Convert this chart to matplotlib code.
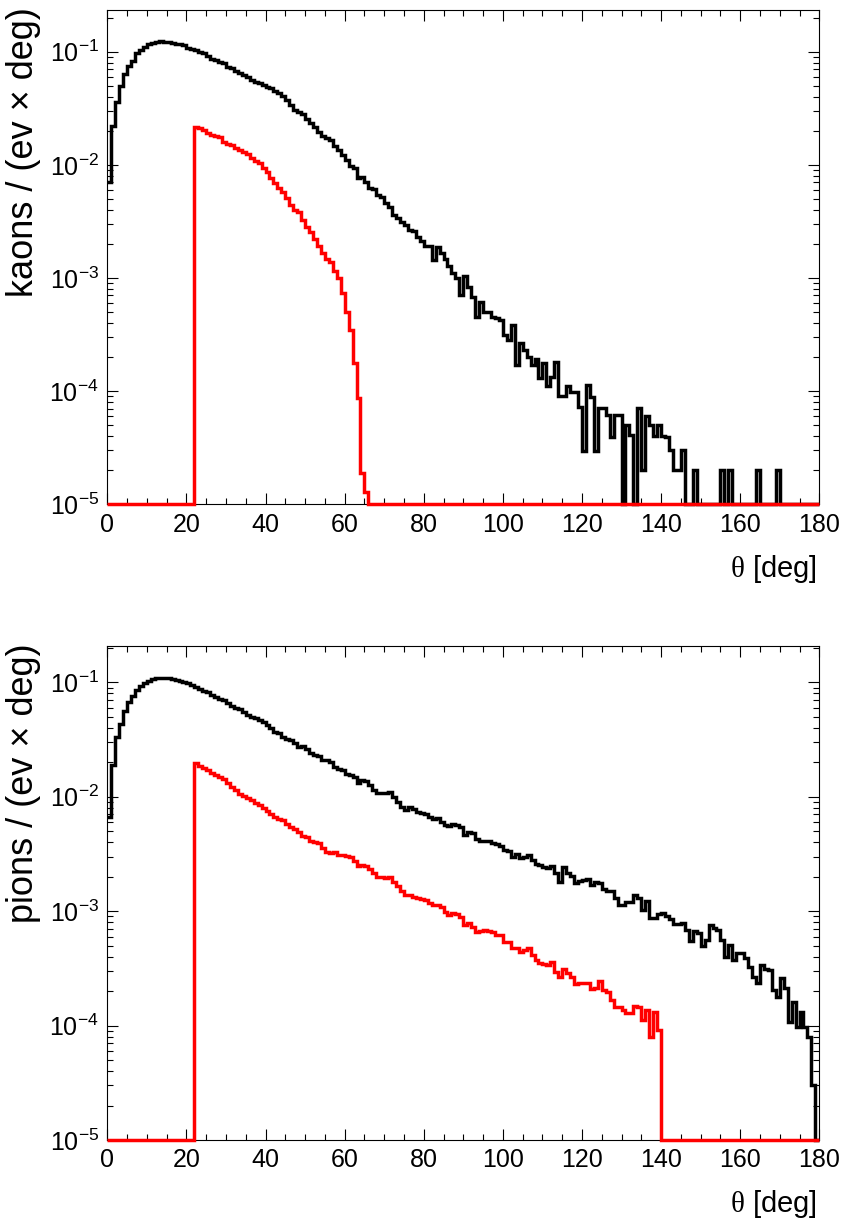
import numpy as np
import matplotlib
matplotlib.use("Agg")
import matplotlib.pyplot as plt
from matplotlib.ticker import MultipleLocator, LogLocator, NullFormatter

plt.rcParams["font.family"] = ["Liberation Sans", "DejaVu Sans"]
plt.rcParams["mathtext.fontset"] = "custom"
plt.rcParams["mathtext.rm"] = "Liberation Serif"

# 1-degree bins in theta
theta_edges = np.arange(0, 181, 1)

# log10 of bin contents, None = empty bin
kaon_all_log = [
    -2.149, -1.657, -1.448, -1.303, -1.197, -1.127, -1.082, -1.015, -0.985, -0.956,
    -0.935, -0.920, -0.912, -0.909, -0.912, -0.918, -0.920, -0.929, -0.935, -0.944,
    -0.965, -0.973, -0.985, -1.000, -1.009, -1.035, -1.062, -1.071, -1.088, -1.103,
    -1.133, -1.147, -1.168, -1.186, -1.206, -1.227, -1.250, -1.265, -1.280, -1.297,
    -1.309, -1.324, -1.345, -1.368, -1.392, -1.427, -1.471, -1.515, -1.530, -1.554,
    -1.598, -1.633, -1.663, -1.707, -1.745, -1.760, -1.781, -1.831, -1.868, -1.913,
    -1.957, -2.010, -2.030, -2.119, -2.104, -2.148, -2.207, -2.216, -2.266, -2.281,
    -2.334, -2.375, -2.443, -2.472, -2.502, -2.531, -2.575, -2.584, -2.640, -2.670,
    -2.720, -2.720, -2.840, -2.730, -2.780, -2.834, -2.893, -2.952, -3.002, -3.149,
    -2.987, -3.076, -3.164, -3.341, -3.208, -3.297, -3.297, -3.341, -3.355, -3.370,
    -3.503, -3.547, -3.414, -3.768, -3.576, -3.635, -3.700, -3.768, -3.718, -3.885,
    -3.753, -3.953, -3.877, -3.739, -4.039, -4.039, -3.959, -4.004, -4.004, -4.136,
    -4.533, -3.950, -4.050, -4.533, -4.150, -4.150, -4.209, -4.401, -4.209, -4.209,
    None, -4.298, -4.386, None, -4.150, -4.695, -4.224, -4.298, -4.400, -4.298,
    -4.400, -4.401, -4.519, -4.695, -4.695, -4.519, None, None, -4.695, None,
    None, None, None, None, None, -4.695, None, -4.695, None, None,
    None, None, None, None, -4.695, None, None, None, None, -4.695,
    None, None, None, None, None, None, None, None, None, None,
]

kaon_cut_log = [None] * 22 + [
    -1.663, -1.677, -1.692, -1.722, -1.736, -1.745, -1.757, -1.795,
    -1.816, -1.825, -1.854, -1.869, -1.884, -1.904, -1.943, -1.963, -1.987, -2.025,
    -2.060, -2.119, -2.158, -2.208, -2.243, -2.296, -2.355, -2.399, -2.414, -2.487,
    -2.546, -2.591, -2.658, -2.720, -2.780, -2.830, -2.860, -2.935, -3.002, -3.134,
    -3.297, -3.459, -3.753, -4.062, -4.719, -4.887,
] + [None] * 114

pion_all_log = [
    -2.180, -1.722, -1.481, -1.361, -1.251, -1.172, -1.119, -1.070, -1.032, -1.003,
    -0.985, -0.974, -0.965, -0.962, -0.959, -0.965, -0.971, -0.980, -0.985, -1.000,
    -1.009, -1.023, -1.038, -1.061, -1.076, -1.084, -1.111, -1.125, -1.146, -1.154,
    -1.178, -1.207, -1.221, -1.236, -1.256, -1.285, -1.300, -1.315, -1.329, -1.344,
    -1.373, -1.402, -1.431, -1.446, -1.475, -1.498, -1.504, -1.533, -1.562, -1.556,
    -1.585, -1.615, -1.635, -1.644, -1.679, -1.679, -1.693, -1.737, -1.760, -1.763,
    -1.801, -1.810, -1.824, -1.883, -1.853, -1.859, -1.897, -1.941, -1.970, -1.970,
    -1.964, -1.955, -1.999, -2.043, -2.087, -2.116, -2.092, -2.110, -2.130, -2.139,
    -2.151, -2.174, -2.197, -2.188, -2.218, -2.247, -2.255, -2.241, -2.247, -2.267,
    -2.334, -2.305, -2.320, -2.372, -2.384, -2.384, -2.387, -2.401, -2.416, -2.430,
    -2.465, -2.474, -2.523, -2.500, -2.538, -2.529, -2.512, -2.553, -2.588, -2.599,
    -2.617, -2.620, -2.605, -2.669, -2.742, -2.617, -2.664, -2.692, -2.756, -2.733,
    -2.728, -2.722, -2.771, -2.742, -2.756, -2.809, -2.821, -2.821, -2.888, -2.946,
    -2.946, -2.917, -2.917, -2.858, -2.882, -2.990, -2.908, -3.062, -3.062, -3.024,
    -3.013, -3.042, -3.071, -3.112, -3.112, -3.100, -3.164, -3.258, -3.170, -3.188,
    -3.304, -3.252, -3.121, -3.150, -3.164, -3.252, -3.397, -3.295, -3.426, -3.368,
    -3.368, -3.412, -3.485, -3.572, -3.630, -3.470, -3.508, -3.514, -3.689, -3.747,
    -3.587, -3.674, -3.965, -3.791, -4.009, -3.878, -4.009, -4.096, -4.519, None,
]

pion_cut_log = [None] * 22 + [
    -1.708, -1.728, -1.746, -1.766, -1.789, -1.810, -1.824, -1.845,
    -1.883, -1.912, -1.941, -1.976, -1.990, -2.008, -2.028, -2.052, -2.072, -2.101,
    -2.124, -2.151, -2.174, -2.197, -2.203, -2.238, -2.267, -2.279, -2.305, -2.343,
    -2.355, -2.387, -2.392, -2.407, -2.451, -2.480, -2.488, -2.480, -2.509, -2.510,
    -2.520, -2.523, -2.558, -2.605, -2.599, -2.605, -2.634, -2.663, -2.698, -2.704,
    -2.713, -2.704, -2.742, -2.780, -2.821, -2.858, -2.858, -2.873, -2.882, -2.890,
    -2.902, -2.925, -2.946, -2.948, -2.966, -3.004, -3.033, -3.013, -3.024, -3.048,
    -3.121, -3.100, -3.135, -3.179, -3.170, -3.164, -3.170, -3.179, -3.208, -3.208,
    -3.266, -3.266, -3.324, -3.324, -3.354, -3.339, -3.324, -3.383, -3.426, -3.456,
    -3.461, -3.470, -3.441, -3.528, -3.572, -3.508, -3.543, -3.572, -3.636, -3.625,
    -3.630, -3.630, -3.683, -3.674, -3.607, -3.689, -3.703, -3.776, -3.834, -3.840,
    -3.863, -3.893, -3.893, -3.828, -3.834, -3.951, -3.863, -4.096, -3.878, -4.038,
] + [None] * 40

y_min = 1e-5
panels = [
    ("kaons / (ev \u00d7 deg)", kaon_all_log, kaon_cut_log, 0.2333),
    ("pions / (ev \u00d7 deg)", pion_all_log, pion_cut_log, 0.2075),
]


def to_counts(logs):
    # ROOT draws empty bins at the bottom of a log axis
    return np.array([y_min if v is None else 10.0 ** v for v in logs])


W, H = 844, 1230
fig = plt.figure(figsize=(W / 100, H / 100), dpi=100)

ax_boxes = [(107.3, 10.0, 819.3, 504.3), (107.3, 646.0, 819.3, 1140.0)]

for (ylabel, all_log, cut_log, y_max), (x0, y0, x1, y1) in zip(panels, ax_boxes):
    ax = fig.add_axes([x0 / W, 1 - y1 / H, (x1 - x0) / W, (y1 - y0) / H])
    ax.stairs(to_counts(all_log), theta_edges, baseline=None, color="black",
              lw=2.5, clip_on=False, zorder=3)
    ax.stairs(to_counts(cut_log), theta_edges, baseline=None, color="red",
              lw=2.5, clip_on=False, zorder=4)

    ax.set_yscale("log")
    ax.set_xlim(0, 180)
    ax.set_ylim(y_min, y_max)
    ax.xaxis.set_major_locator(MultipleLocator(20))
    ax.xaxis.set_minor_locator(MultipleLocator(5))
    ax.yaxis.set_major_locator(LogLocator(base=10, numticks=10))
    ax.yaxis.set_minor_locator(LogLocator(base=10, subs=np.arange(2, 10), numticks=20))
    ax.yaxis.set_minor_formatter(NullFormatter())
    ax.tick_params(which="both", direction="in", top=True, right=True,
                   labelsize=18, width=0.8)
    ax.tick_params(which="major", length=8, pad=6)
    ax.tick_params(which="minor", length=4.3)
    for sp in ax.spines.values():
        sp.set_linewidth(0.8)

    fig.text(24 / W, 1 - (y0 - 3) / H, ylabel, rotation=90, ha="center", va="top",
             fontsize=26)
    fig.text(817 / W, 1 - (y1 + 72.5) / H, r"$\mathrm{\theta}$ [deg]", ha="right",
             va="baseline", fontsize=21)

fig.savefig("out.png", dpi=100)
